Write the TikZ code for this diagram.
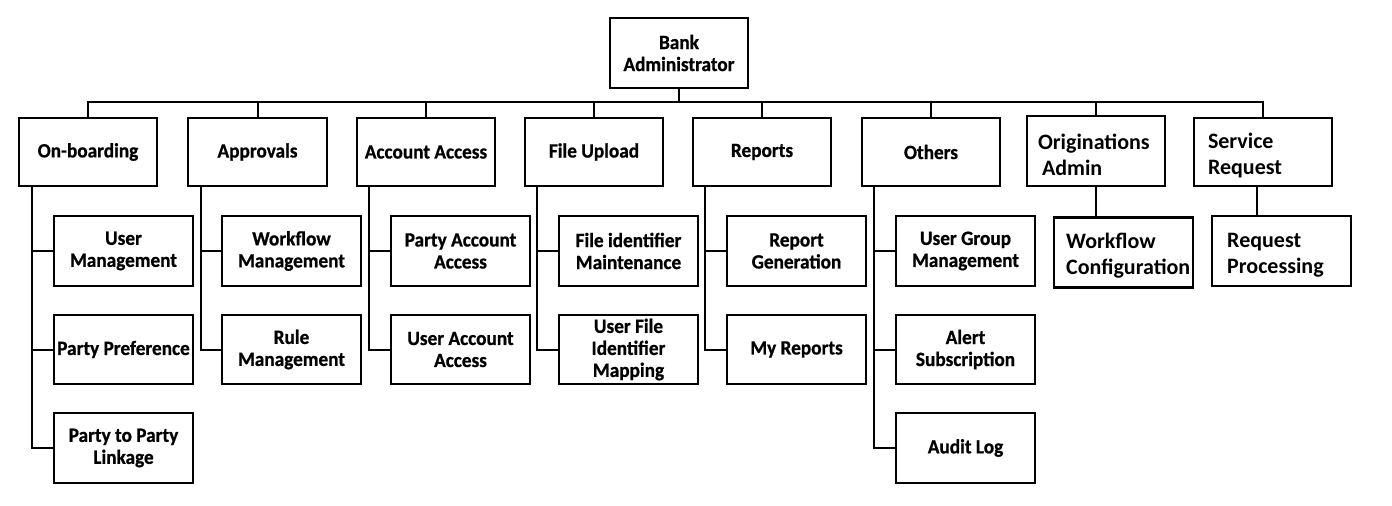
\documentclass[tikz,border=0pt]{standalone}
\usepackage{fontspec}
\setmainfont{Carlito}
\newfontfamily\boxfont{Carlito}[FakeStretch=0.95, BoldFeatures={FakeBold=0.8}]
\usetikzlibrary{positioning,calc}

\begin{document}
\begin{tikzpicture}[
      x=0.75pt, y=-0.75pt,
      line width=1.5pt,
      box/.style={draw, line width=1.6pt, minimum width=104pt, minimum height=52pt,
                  inner sep=1pt, align=center,
                  font=\boxfont\bfseries\fontsize{15.2}{16.5}\selectfont},
      topbox/.style={box, minimum height=51pt},
      wbox/.style={box, align=left, font=\bfseries\fontsize{16.5}{19.5}\selectfont}
  ]
      \useasboundingbox (0,0) rectangle (1392,506);

      % Root
      \node[box, minimum height=52.5pt] (root) at (679,53) {Bank\\Administrator};
      \coordinate (bus) at (679,102);

      % First level
      \node[topbox] (ob)   at (88,152)   {On-boarding};
      \node[topbox] (appr) at (257.5,152) {Approvals};
      \node[topbox] (acc)  at (426,152)  {Account Access};
      \node[topbox] (fup)  at (594,152)  {File Upload};
      \node[topbox] (rep)  at (762,152)  {Reports};
      \node[topbox] (oth)  at (931,152)  {Others};
      \node[wbox, minimum height=52.5pt, text width=87pt] (orig) at (1096,151)
          {\rule{0pt}{17.5pt}Originations\\\hspace*{3pt}Admin};
      \node[wbox, minimum height=51pt, text width=82.5pt] (sreq) at (1263,152)
          {\rule{0pt}{17.5pt}Service\\Request};

      \draw (root.south) -- (bus);
      \foreach \n in {ob, appr, acc, fup, rep, oth, orig, sreq}
          \draw (\n.north) |- (bus);

      % On-boarding
      \node[box] (ob1) at (123.5,251) {User\\Management};
      \node[box] (ob2) at (123.5,349.5) {Party Preference};
      \node[box] (ob3) at (123.5,448) {Party to Party\\Linkage};

      % Approvals
      \node[box] (appr1) at (291.5,251) {Workflow\\Management};
      \node[box] (appr2) at (291.5,349.5) {Rule\\Management};

      % Account Access
      \node[box] (acc1) at (460.5,251) {Party Account\\Access};
      \node[box] (acc2) at (460.5,349.5) {User Account\\Access};

      % File Upload
      \node[box] (fup1) at (628.5,251) {File identifier\\Maintenance};
      \node[box] (fup2) at (628.5,349.5) {User File\\Identifier\\Mapping};

      % Reports
      \node[box] (rep1) at (796.5,251) {Report\\Generation};
      \node[box] (rep2) at (796.5,349.5) {My Reports};

      % Others
      \node[box] (oth1) at (965.5,251) {User Group\\Management};
      \node[box] (oth2) at (965.5,349.5) {Alert\\Subscription};
      \node[box] (oth3) at (965.5,448) {Audit Log};

      % Originations and service request
      \node[wbox, minimum height=52.5pt, text width=86pt] (orig1) at (1123.5,252.5)
          {\rule{0pt}{17pt}Workflow\\Configuration};
      \node[wbox, minimum height=52.5pt, text width=81.5pt] (sreq1) at (1281.5,251)
          {\rule{0pt}{17pt}Request\\Processing};

      % Branch lines
      \draw ([xshift=11pt]ob.south west) |- (ob1.west)
            ([xshift=11pt]ob.south west) |- (ob2.west)
            ([xshift=11pt]ob.south west) |- (ob3.west);
      \draw ([xshift=10.5pt]appr.south west) |- (appr1.west)
            ([xshift=10.5pt]appr.south west) |- (appr2.west);
      \draw ([xshift=10pt]acc.south west) |- (acc1.west)
            ([xshift=10pt]acc.south west) |- (acc2.west);
      \draw ([xshift=10pt]fup.south west) |- (fup1.west)
            ([xshift=10pt]fup.south west) |- (fup2.west);
      \draw ([xshift=10pt]rep.south west) |- (rep1.west)
            ([xshift=10pt]rep.south west) |- (rep2.west);
      \draw ([xshift=10pt]oth.south west) |- (oth1.west)
            ([xshift=10pt]oth.south west) |- (oth2.west)
            ([xshift=10pt]oth.south west) |- (oth3.west);
      \draw (orig.south) -- (orig.south |- orig1.north);
      \draw ([xshift=-4.5pt]sreq.south) -- ([xshift=-4.5pt]sreq.south |- sreq1.north);
  \end{tikzpicture}
\end{document}
